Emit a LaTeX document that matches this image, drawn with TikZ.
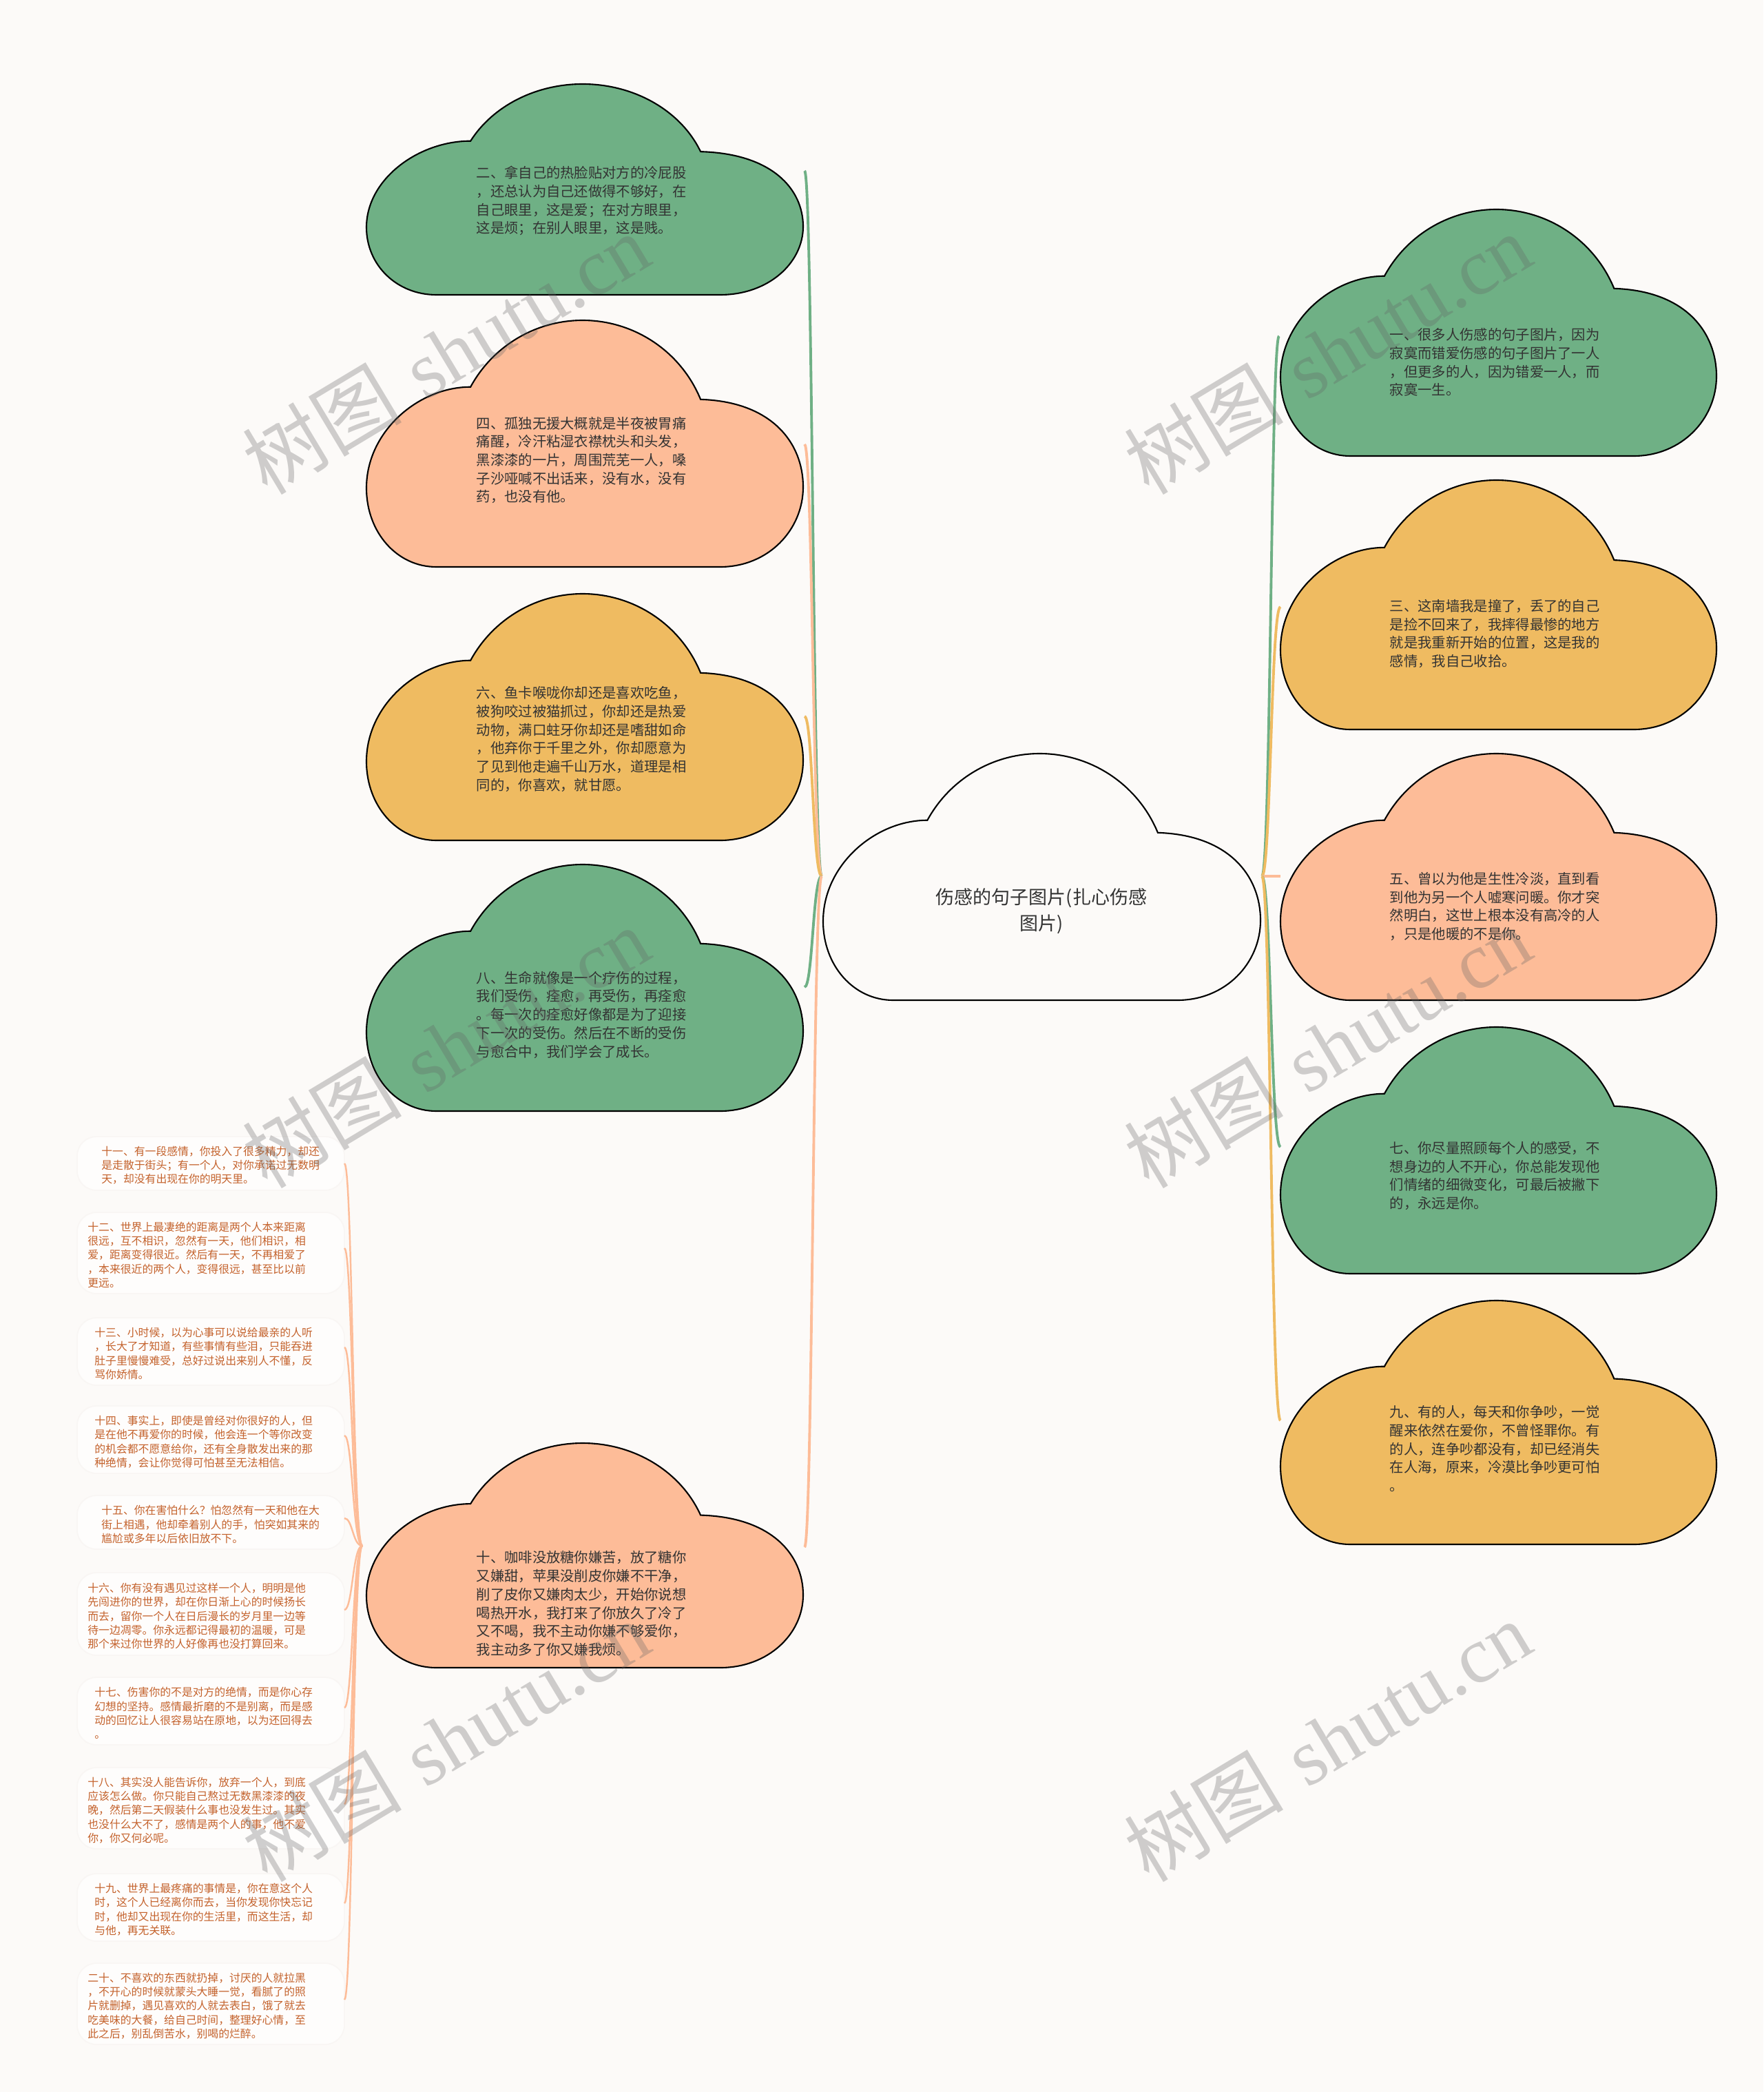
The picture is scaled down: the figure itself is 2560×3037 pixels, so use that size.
\documentclass[tikz,border=0pt]{standalone}
\usepackage{fontspec}
\newfontfamily\cjk{Noto Sans CJK SC}
\newfontfamily\wmserif{Liberation Serif}
\usetikzlibrary{calc}
\definecolor{bg}{RGB}{252,250,248}
\definecolor{cgreen}{RGB}{111,176,133}
\definecolor{cpeach}{RGB}{253,188,152}
\definecolor{cyellow}{RGB}{239,187,97}
\definecolor{ctext}{RGB}{51,51,51}
\definecolor{stext}{RGB}{196,98,44}
\definecolor{wm}{RGB}{100,100,100}
\definecolor{ibord}{RGB}{249,246,244}
\definecolor{ifill}{RGB}{254,253,252}
\newcommand\mycloud[5]{%
 \begin{scope}[shift={(#1,#2)},xscale=#3,yscale=#4]
  \filldraw[fill=#5,draw=black,line width=0.6pt]
   (0.16,1) .. controls (0.07,1) and (0,0.86) .. (0,0.68)
   .. controls (0,0.45) and (0.12,0.27) .. (0.2384,0.2703)
   .. controls (0.2895,0.1037) and (0.3879,0) .. (0.495,0)
   .. controls (0.6135,0) and (0.7202,0.1267) .. (0.7652,0.3208)
   .. controls (0.93,0.33) and (1,0.5) .. (1,0.676)
   .. controls (1,0.85) and (0.92,1) .. (0.81,1) -- cycle;
 \end{scope}}
\begin{document}
\begin{tikzpicture}[x=0.01cm,y=-0.01cm,
 conn/.style={line width=1.1pt},
 sconn/.style={line width=0.7pt,draw=cpeach},
 ctxt/.style={font=\cjk\fontsize{5.78pt}{7.6pt}\selectfont,text=ctext,align=left,inner sep=0pt,anchor=west},
 stxt/.style={font=\cjk\fontsize{4.5pt}{5.78pt}\selectfont,text=stext,align=left,inner sep=0pt,anchor=west},
 mtxt/.style={font=\cjk\fontsize{7.68pt}{10.8pt}\selectfont,text=ctext,align=center,inner sep=0pt},
 wmark/.style={font=\fontsize{33pt}{38pt}\selectfont,text=wm,text opacity=0.3,rotate=31,inner sep=0pt},
 ibox/.style={draw=ibord,fill=ifill,rounded corners=8pt,line width=0.5pt}]
\useasboundingbox (0,0) rectangle (2560,3037);
\fill[bg] (0,0) rectangle (2560,3037);

% connection points
\coordinate (cl) at (1193,1272);
\coordinate (cr) at (1832,1272);
\coordinate (e2) at (1168,248);
\coordinate (e4) at (1168,645);
\coordinate (e6) at (1168,1040);
\coordinate (e8) at (1168,1433);
\coordinate (e10) at (1168,2246);
\coordinate (e1) at (1857,488);
\coordinate (e3) at (1859,881);
\coordinate (e5) at (1859,1272);
\coordinate (e7) at (1859,1665);
\coordinate (e9) at (1859,2062);
\coordinate (tl) at (526,2244);

% main connectors
\draw[conn,cgreen] (cl) .. controls (1180,1272) and (1180,248) .. (e2);
\draw[conn,cpeach] (cl) .. controls (1180,1272) and (1180,645) .. (e4);
\draw[conn,cyellow] (cl) .. controls (1180,1272) and (1180,1040) .. (e6);
\draw[conn,cgreen] (cl) .. controls (1180,1272) and (1180,1433) .. (e8);
\draw[conn,cpeach] (cl) .. controls (1180,1272) and (1180,2246) .. (e10);
\draw[conn,cgreen] (cr) .. controls (1845,1272) and (1845,488) .. (e1);
\draw[conn,cyellow] (cr) .. controls (1845,1272) and (1845,881) .. (e3);
\draw[conn,cpeach] (cr) -- (e5);
\draw[conn,cgreen] (cr) .. controls (1845,1272) and (1845,1665) .. (e7);
\draw[conn,cyellow] (cr) .. controls (1845,1272) and (1845,2062) .. (e9);

% sub item boxes
\foreach \yt/\yb in {1650/1728,1760/1878,1913/2011,2041/2139,2171/2249,2283/2403,2435/2533,2566/2684,2720/2818,2850/2968}{
  \draw[ibox] (112,\yt) rectangle (500,\yb);
}
% sub item connectors
\foreach \n/\y in {11/1689,12/1812,13/1956,14/2084,15/2204,16/2337,17/2479,18/2619,19/2763,20/2903}{
  \coordinate (s\n) at (500,\y);
  \draw[sconn] (tl) .. controls (512,2244) and (512,\y) .. (s\n);
}

% clouds
\mycloud{532}{122}{634}{306}{cgreen}
\mycloud{532}{465}{634}{358}{cpeach}
\mycloud{532}{862}{634}{358}{cyellow}
\mycloud{532}{1255}{634}{358}{cgreen}
\mycloud{532}{2095}{634}{326}{cpeach}
\mycloud{1859}{304}{633}{358}{cgreen}
\mycloud{1859}{697}{633}{362}{cyellow}
\mycloud{1859}{1094}{633}{358}{cpeach}
\mycloud{1859}{1491}{633}{358}{cgreen}
\mycloud{1859}{1888}{633}{354}{cyellow}
\mycloud{1195}{1094}{635}{358}{bg}

% center text
\node[mtxt] (root) at (1512,1323) {伤感的句子图片(扎心伤感\\图片)};

% cloud texts
\node[ctxt] (t2) at (691,291.7) {二、拿自己的热脸贴对方的冷屁股\\，还总认为自己还做得不够好，在\\自己眼里，这是爱；在对方眼里，\\这是烦；在别人眼里，这是贱。};
\node[ctxt] (t4) at (691,668) {四、孤独无援大概就是半夜被胃痛\\痛醒，冷汗粘湿衣襟枕头和头发，\\黑漆漆的一片，周围荒芜一人，嗓\\子沙哑喊不出话来，没有水，没有\\药，也没有他。};
\node[ctxt] (t6) at (691,1073) {六、鱼卡喉咙你却还是喜欢吃鱼，\\被狗咬过被猫抓过，你却还是热爱\\动物，满口蛀牙你却还是嗜甜如命\\，他弃你于千里之外，你却愿意为\\了见到他走遍千山万水，道理是相\\同的，你喜欢，就甘愿。};
\node[ctxt] (t8) at (691,1473) {八、生命就像是一个疗伤的过程，\\我们受伤，痊愈，再受伤，再痊愈\\。每一次的痊愈好像都是为了迎接\\下一次的受伤。然后在不断的受伤\\与愈合中，我们学会了成长。};
\node[ctxt] (t10) at (691,2328) {十、咖啡没放糖你嫌苦，放了糖你\\又嫌甜，苹果没削皮你嫌不干净，\\削了皮你又嫌肉太少，开始你说想\\喝热开水，我打来了你放久了冷了\\又不喝，我不主动你嫌不够爱你，\\我主动多了你又嫌我烦。};
\node[ctxt] (t1) at (2017,526) {一、很多人伤感的句子图片，因为\\寂寞而错爱伤感的句子图片了一人\\，但更多的人，因为错爱一人，而\\寂寞一生。};
\node[ctxt] (t3) at (2017,920) {三、这南墙我是撞了，丢了的自己\\是捡不回来了，我摔得最惨的地方\\就是我重新开始的位置，这是我的\\感情，我自己收拾。};
\node[ctxt] (t5) at (2017,1316) {五、曾以为他是生性冷淡，直到看\\到他为另一个人嘘寒问暖。你才突\\然明白，这世上根本没有高冷的人\\，只是他暖的不是你。};
\node[ctxt] (t7) at (2017,1707) {七、你尽量照顾每个人的感受，不\\想身边的人不开心，你总能发现他\\们情绪的细微变化，可最后被撇下\\的，永远是你。};
\node[ctxt] (t9) at (2017,2103) {九、有的人，每天和你争吵，一觉\\醒来依然在爱你，不曾怪罪你。有\\的人，连争吵都没有，却已经消失\\在人海，原来，冷漠比争吵更可怕\\。};

% sub items
\node[stxt] (i11) at (146.7,1691.7) {十一、有一段感情，你投入了很多精力，却还\\是走散于街头；有一个人，对你承诺过无数明\\天，却没有出现在你的明天里。};
\node[stxt] (i12) at (126.7,1821.7) {十二、世界上最凄绝的距离是两个人本来距离\\很远，互不相识，忽然有一天，他们相识，相\\爱，距离变得很近。然后有一天，不再相爱了\\，本来很近的两个人，变得很远，甚至比以前\\更远。};
\node[stxt] (i13) at (136.7,1965) {十三、小时候，以为心事可以说给最亲的人听\\，长大了才知道，有些事情有些泪，只能吞进\\肚子里慢慢难受，总好过说出来别人不懂，反\\骂你娇情。};
\node[stxt] (i14) at (136.7,2093) {十四、事实上，即使是曾经对你很好的人，但\\是在他不再爱你的时候，他会连一个等你改变\\的机会都不愿意给你，还有全身散发出来的那\\种绝情，会让你觉得可怕甚至无法相信。};
\node[stxt] (i15) at (146.7,2213) {十五、你在害怕什么？怕忽然有一天和他在大\\街上相遇，他却牵着别人的手，怕突如其来的\\尴尬或多年以后依旧放不下。};
\node[stxt] (i16) at (126.7,2346) {十六、你有没有遇见过这样一个人，明明是他\\先闯进你的世界，却在你日渐上心的时候扬长\\而去，留你一个人在日后漫长的岁月里一边等\\待一边凋零。你永远都记得最初的温暖，可是\\那个来过你世界的人好像再也没打算回来。};
\node[stxt] (i17) at (136.7,2487) {十七、伤害你的不是对方的绝情，而是你心存\\幻想的坚持。感情最折磨的不是别离，而是感\\动的回忆让人很容易站在原地，以为还回得去\\。};
\node[stxt] (i18) at (126.7,2628) {十八、其实没人能告诉你，放弃一个人，到底\\应该怎么做。你只能自己熬过无数黑漆漆的夜\\晚，然后第二天假装什么事也没发生过。其实\\也没什么大不了，感情是两个人的事，他不爱\\你，你又何必呢。};
\node[stxt] (i19) at (136.7,2772) {十九、世界上最疼痛的事情是，你在意这个人\\时，这个人已经离你而去，当你发现你快忘记\\时，他却又出现在你的生活里，而这生活，却\\与他，再无关联。};
\node[stxt] (i20) at (126.7,2912) {二十、不喜欢的东西就扔掉，讨厌的人就拉黑\\，不开心的时候就蒙头大睡一觉，看腻了的照\\片就删掉，遇见喜欢的人就去表白，饿了就去\\吃美味的大餐，给自己时间，整理好心情，至\\此之后，别乱倒苦水，别喝的烂醉。};

% watermarks
\foreach \wx/\wy [count=\k] in {647/513,1927/513,647/1520,1927/1520,647/2527,1927/2527}{
  \node[wmark] (wm\k) at (\wx,\wy) {{\cjk 树图} {\wmserif shutu.cn}};
}
\end{tikzpicture}
\end{document}
